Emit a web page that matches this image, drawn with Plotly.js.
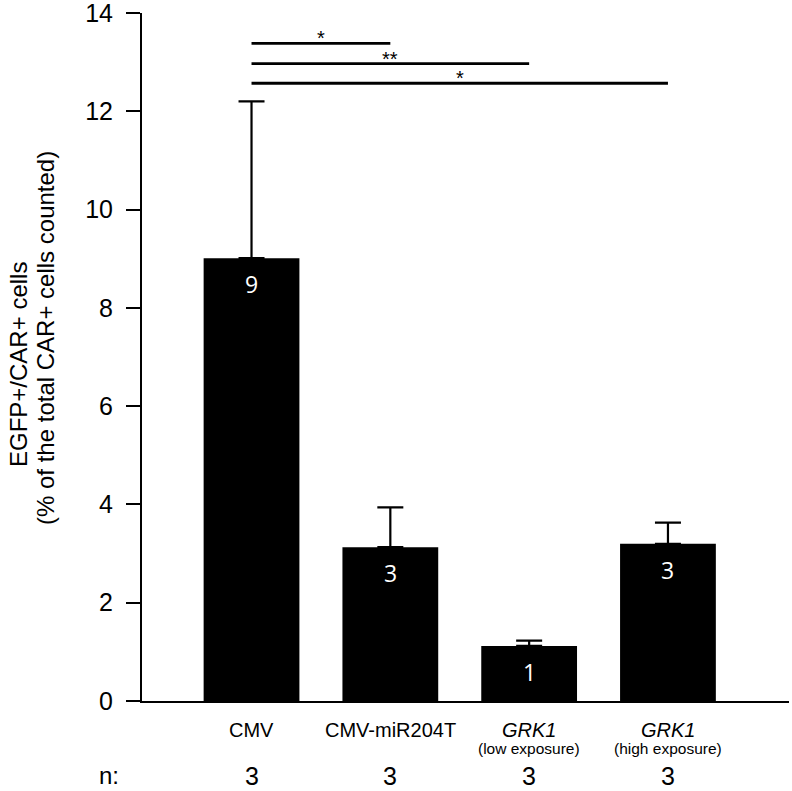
<!DOCTYPE html>
<html>
<head>
<meta charset="utf-8">
<script src="https://cdn.plot.ly/plotly-3.0.1.min.js"></script>
<style>html,body{margin:0;padding:0;background:#fff;}#chart{width:792px;height:791px;}</style>
</head>
<body>
<div id="chart"></div>
<script>
// ---- data ----
const categories = ["CMV", "CMV-miR204T", "GRK1 (low exposure)", "GRK1 (high exposure)"];
const catMain = ["CMV", "CMV-miR204T", "<i>GRK1</i>", "<i>GRK1</i>"];
const catSub = ["", "", "(low exposure)", "(high exposure)"];
const means = [9.01, 3.13, 1.12, 3.20];
const errPlus = [3.19, 0.81, 0.11, 0.43];
const barLabels = ["9", "3", "1", "3"];
const nValues = ["3", "3", "3", "3"];
const sigFrom = [0, 0, 0];
const sigTo = [1, 2, 3];
const sigLevel = [13.38, 12.97, 12.57];
const sigText = ["*", "**", "*"];
const yTicks = [0, 2, 4, 6, 8, 10, 12, 14];

// ---- layout helpers ----
const W = 792, H = 791;
const mT = 13, mB = 90, mL = 142, mR = 3;
const plotH = H - mT - mB;
const plotW = W - mL - mR;
const py = (pix) => (H - mB - pix) / plotH; // pixel y -> paper y
const px = (pix) => (pix - mL) / plotW;     // pixel x -> paper x
const FONT = "Liberation Sans, Arial, sans-serif";

const xIdx = categories.map((c, i) => i);

const trace = {
  type: "bar",
  x: xIdx,
  y: means,
  width: 0.69,
  marker: {color: "#000000", line: {width: 0}},
  error_y: {
    type: "data", symmetric: false, array: errPlus,
    arrayminus: means.map(() => 0),
    color: "#000000", thickness: 2.2, width: 13, visible: true
  },
  hoverinfo: "skip"
};

const annotations = [];
const shapes = [];

// bar value labels (white, inside bars)
barLabels.forEach((t, i) => {
  annotations.push({
    x: i, y: means[i], xref: "x", yref: "y", text: t, showarrow: false,
    yanchor: "middle", yshift: -26,
    font: {family: "Open Sans, Noto Sans, sans-serif", size: 23, color: "#ffffff"}
  });
});

// category labels
catMain.forEach((t, i) => {
  annotations.push({
    x: i, y: py(730), xref: "x", yref: "paper", text: t, showarrow: false,
    yanchor: "middle", font: {family: FONT, size: 20, color: "#000"}
  });
  if (catSub[i]) {
    annotations.push({
      x: i, y: py(748), xref: "x", yref: "paper", text: catSub[i], showarrow: false,
      yanchor: "middle", font: {family: FONT, size: 15.5, color: "#000"}
    });
  }
  annotations.push({
    x: i, y: py(776), xref: "x", yref: "paper", text: nValues[i], showarrow: false,
    yanchor: "middle", font: {family: FONT, size: 25, color: "#000"}
  });
});

// "n:" label
annotations.push({
  x: px(109), y: py(775), xref: "paper", yref: "paper", text: "n:", showarrow: false,
  xanchor: "center", yanchor: "middle", font: {family: FONT, size: 24, color: "#000"}
});

// y-axis title (two lines)
annotations.push({
  x: px(18), y: py(365), xref: "paper", yref: "paper",
  text: "EGFP+/CAR+ cells", showarrow: false, textangle: -90,
  xanchor: "center", yanchor: "middle", font: {family: FONT, size: 24, color: "#000"}
});
annotations.push({
  x: px(46), y: py(338), xref: "paper", yref: "paper",
  text: "(% of the total CAR+ cells counted)", showarrow: false, textangle: -90,
  xanchor: "center", yanchor: "middle", font: {family: FONT, size: 24, color: "#000"}
});

// significance brackets
sigFrom.forEach((a, k) => {
  const b = sigTo[k];
  shapes.push({
    type: "line", xref: "x", yref: "y", x0: a, x1: b, y0: sigLevel[k], y1: sigLevel[k],
    line: {color: "#000", width: 2.8}
  });
  annotations.push({
    x: (a + b) / 2, y: sigLevel[k], xref: "x", yref: "y", text: sigText[k],
    showarrow: false, yanchor: "bottom", yshift: -8,
    font: {family: FONT, size: 20, color: "#000"}
  });
});

const layout = {
  width: W, height: H,
  margin: {l: mL, r: mR, t: mT, b: mB, pad: 0},
  paper_bgcolor: "#ffffff", plot_bgcolor: "#ffffff",
  showlegend: false,
  bargap: 0.31,
  xaxis: {
    range: [-0.789, 3.872], showline: true, linecolor: "#000", linewidth: 2,
    showgrid: false, zeroline: false, ticks: "", showticklabels: false, fixedrange: true
  },
  yaxis: {
    range: [0, 14], tickvals: yTicks, ticktext: yTicks.map(String),
    showline: true, linecolor: "#000", linewidth: 2, showgrid: false, zeroline: false,
    ticks: "outside", ticklen: 14, tickwidth: 2, tickcolor: "#000",
    ticklabelstandoff: 8, ticklabeloverflow: "allow",
    tickfont: {family: FONT, size: 25, color: "#000"}, fixedrange: true
  },
  annotations: annotations,
  shapes: shapes
};

Plotly.newPlot("chart", [trace], layout, {displayModeBar: false, staticPlot: true});
</script>
</body>
</html>
